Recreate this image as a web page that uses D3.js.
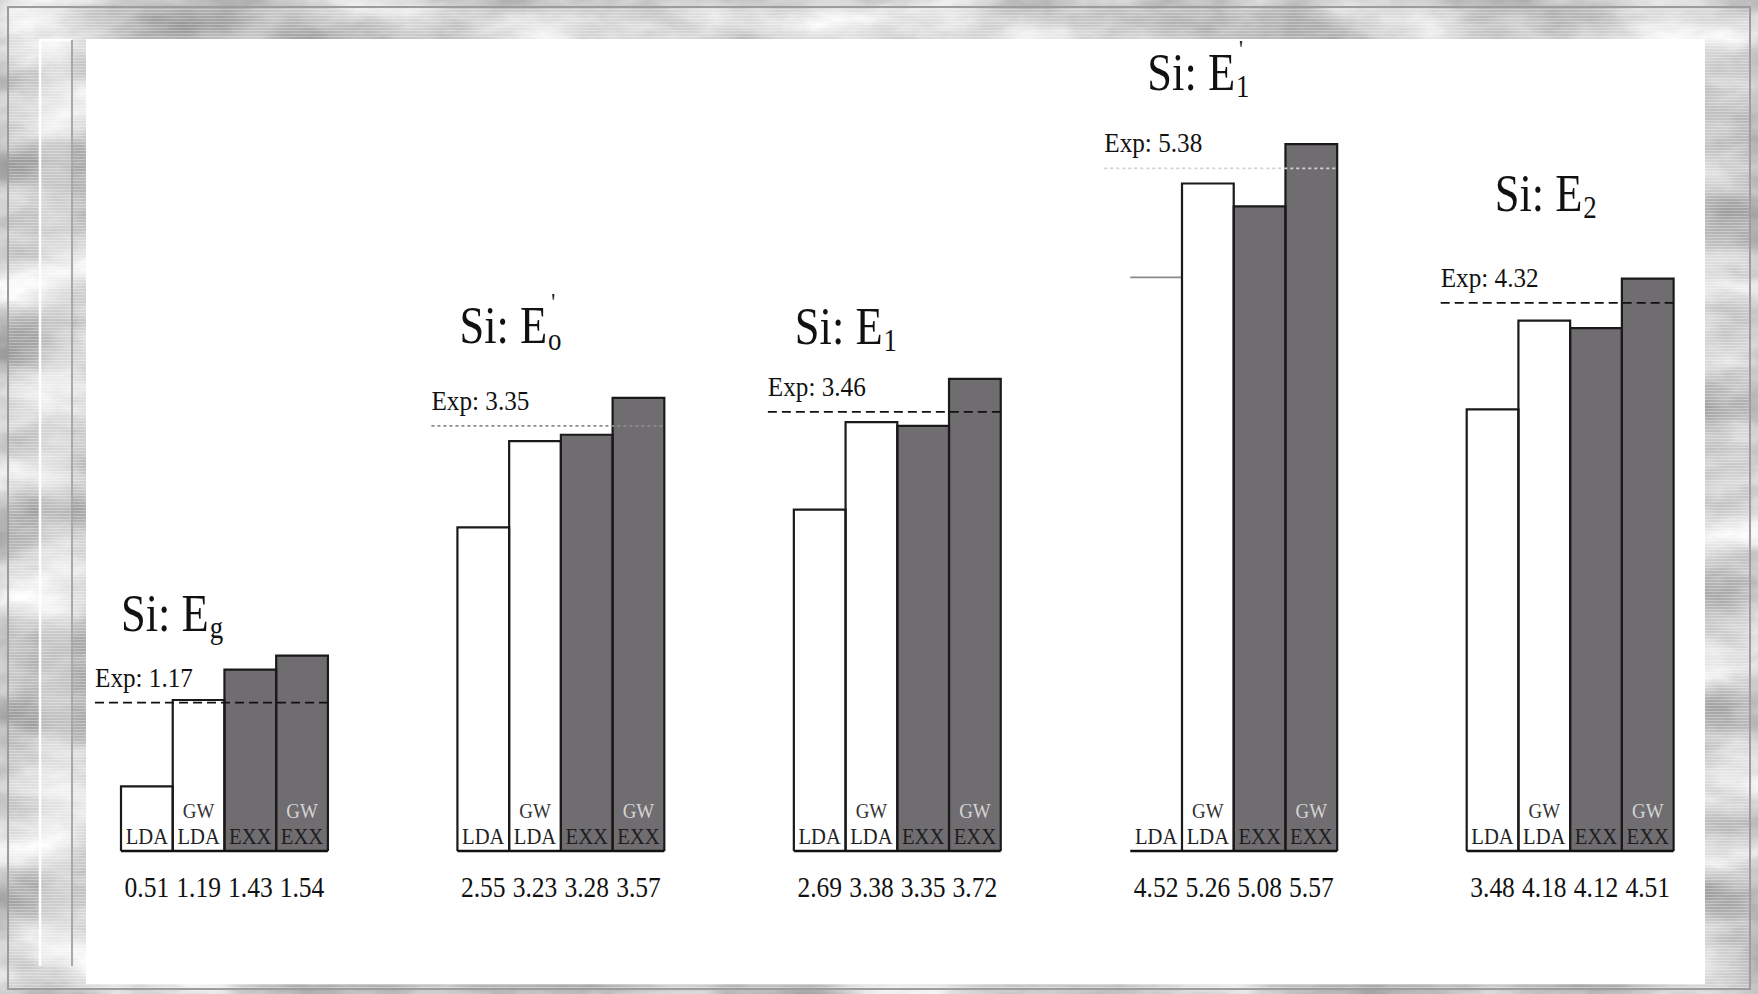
<!DOCTYPE html>
<html>
<head>
<meta charset="utf-8">
<script src="https://cdn.jsdelivr.net/npm/d3@7"></script>
<style>
  html, body { margin: 0; padding: 0; background: #c8c8c8; }
  svg { display: block; }
  text { font-family: "Liberation Serif", "DejaVu Serif", serif; }
</style>
</head>
<body>
<svg id="chart" width="1758" height="994"></svg>
<script>
// ---- data ----
const groups      = ["Eg", "E0'", "E1", "E1'", "E2"];
const titleSub    = ["g", "o", "1", "1", "2"];
const titlePrime  = [false, true, false, true, false];
const methods     = ["LDA", "GW-LDA", "EXX", "GW-EXX"];
const methodTop   = ["", "GW", "", "GW"];
const methodBase  = ["LDA", "LDA", "EXX", "EXX"];
const ldaValues   = [0.51, 2.55, 2.69, 4.52, 3.48];
const gwLdaValues = [1.19, 3.23, 3.38, 5.26, 4.18];
const exxValues   = [1.43, 3.28, 3.35, 5.08, 4.12];
const gwExxValues = [1.54, 3.57, 3.72, 5.57, 4.51];
const expValues   = [1.17, 3.35, 3.46, 5.38, 4.32];

const seriesValues = [ldaValues, gwLdaValues, exxValues, gwExxValues];

// ---- layout ----
const W = 1758, H = 994;
const baseY = 851;
const titleDx   = [0, 2, 1, 17, 28];      // title offset from group start
const titleLift = [72, 83, 68, 78, 92];   // title baseline above the Exp line
const expTone   = ["#111", "#8c8c8c", "#111", "#d2d2d2", "#111"];
const expDash   = ["9,5", "3,3", "9,5", "3,3", "9,5"];
const barFill   = { "LDA": "#ffffff", "GW-LDA": "#ffffff", "EXX": "#6f6d70", "GW-EXX": "#6f6d70" };
const openLeft  = new Set(["E1'|LDA"]);   // outline drawn without its left edge

const svg = d3.select("#chart");
const defs = svg.append("defs");

// marble backdrop
const marble = defs.append("filter").attr("id", "marble")
  .attr("x", 0).attr("y", 0).attr("width", "100%").attr("height", "100%")
  .attr("color-interpolation-filters", "sRGB");
marble.append("feTurbulence").attr("type", "fractalNoise")
  .attr("baseFrequency", "0.007 0.016").attr("numOctaves", 5).attr("seed", 11).attr("result", "n");
marble.append("feColorMatrix").attr("type", "matrix")
  .attr("values", "0.6 0 0 0 0.5  0.6 0 0 0 0.5  0.6 0 0 0 0.5  0 0 0 0 1");

const stripes = defs.append("pattern").attr("id", "stripes")
  .attr("width", 6).attr("height", 3).attr("patternUnits", "userSpaceOnUse");
stripes.append("rect").attr("width", 6).attr("height", 1).attr("fill", "#ffffff").attr("opacity", 0.3);

svg.append("rect").attr("width", W).attr("height", H).attr("filter", "url(#marble)");
svg.append("rect").attr("x", 8).attr("y", 7).attr("width", W - 16).attr("height", H - 12)
  .attr("fill", "url(#stripes)");
svg.append("rect").attr("x", 8).attr("y", 7).attr("width", W - 16).attr("height", H - 12)
  .attr("fill", "none").attr("stroke", "#9c9c9c").attr("stroke-width", 2);

// left marble strip
svg.append("rect").attr("x", 39).attr("y", 39).attr("width", 34).attr("height", 927)
  .attr("fill", "#ffffff").attr("opacity", 0.25);
svg.append("path").attr("d", "M40,966V40H72").attr("fill", "none")
  .attr("stroke", "#ffffff").attr("stroke-width", 2.5);
svg.append("line").attr("x1", 72).attr("x2", 72).attr("y1", 40).attr("y2", 966)
  .attr("stroke", "#a8a8a8").attr("stroke-width", 2);

// white panel
svg.append("rect").attr("x", 86).attr("y", 39).attr("width", 1619).attr("height", 945)
  .attr("fill", "#ffffff");

// ---- scales ----
const x0 = d3.scaleBand().domain(groups).range([121, 1673.6]).paddingInner(0.385).paddingOuter(0);
const x1 = d3.scaleBand().domain(methods).range([0, x0.bandwidth()]).padding(0);
const y = d3.scaleLinear().domain([0, 6]).range([baseY, baseY - 6 * 126.9]);

// condensed text helper (text is drawn narrow)
function label(parent, x, yy, str, size, anchor, fill, sx) {
  return parent.append("text")
    .attr("transform", `translate(${x},${yy}) scale(${sx},1)`)
    .attr("text-anchor", anchor)
    .attr("font-size", size)
    .attr("fill", fill)
    .text(str);
}

const plot = svg.append("g");

groups.forEach((g, gi) => {
  const gx = x0(g);
  const bw = x1.bandwidth();
  const gEl = plot.append("g").attr("transform", `translate(${gx},0)`);

  const rows = methods.map((m, mi) => ({ m, mi, v: seriesValues[mi][gi], open: openLeft.has(g + "|" + m) }));

  // bar fills
  gEl.selectAll("rect.bar").data(rows).join("rect")
    .attr("class", "bar")
    .attr("x", d => x1(d.m))
    .attr("y", d => y(d.v))
    .attr("width", bw)
    .attr("height", d => y(0) - y(d.v))
    .attr("fill", d => barFill[d.m]);

  // bar outlines
  gEl.selectAll("path.edge").data(rows).join("path")
    .attr("class", "edge")
    .attr("d", d => {
      const l = x1(d.m), r = l + bw, t = y(d.v), b = y(0);
      return d.open ? `M${l},${t}H${r}V${b}` : `M${l},${b}V${t}H${r}V${b}`;
    })
    .attr("fill", "none")
    .attr("stroke", d => d.open ? "#8a8a8a" : "#1a1a1a")
    .attr("stroke-width", d => d.open ? 1.6 : 2.2);

  // baseline
  gEl.append("line")
    .attr("x1", 0).attr("x2", x0.bandwidth())
    .attr("y1", y(0)).attr("y2", y(0))
    .attr("stroke", "#111").attr("stroke-width", 2.6);

  // method labels inside the bars
  rows.forEach(d => {
    const cx = x1(d.m) + bw / 2;
    const dark = barFill[d.m] !== "#ffffff";
    label(gEl, cx, y(0) - 7, methodBase[d.mi], 24, "middle", dark ? "#1e1e1e" : "#222", 0.86);
    if (methodTop[d.mi]) {
      label(gEl, cx, y(0) - 33, methodTop[d.mi], 22, "middle", dark ? "#d4d4d4" : "#333", 0.86);
    }
    // value under each bar
    label(gEl, cx, 897, d.v.toFixed(2), 30, "middle", "#111", 0.85);
  });

  // experimental reference line
  const ey = y(expValues[gi]);
  gEl.append("line")
    .attr("x1", -26).attr("x2", x0.bandwidth())
    .attr("y1", ey).attr("y2", ey)
    .attr("stroke", expTone[gi]).attr("stroke-width", 1.8)
    .attr("stroke-dasharray", expDash[gi]);
  label(gEl, -26, ey - 16, "Exp: " + expValues[gi].toFixed(2), 28, "start", "#111", 0.9);

  // group title
  const ty = ey - titleLift[gi];
  const tx = titleDx[gi];
  const t = gEl.append("text")
    .attr("transform", `translate(${tx},${ty}) scale(0.84,1)`)
    .attr("font-size", 53).attr("fill", "#111");
  t.append("tspan").text("Si: E");
  t.append("tspan").attr("font-size", 32).attr("dy", 7).attr("dx", 1).text(titleSub[gi]);
  if (titlePrime[gi]) {
    const mainLen = t.node().getSubStringLength(0, 5);
    gEl.append("text")
      .attr("transform", `translate(${tx + mainLen * 0.84 + 4},${ty - 32}) scale(0.84,1)`)
      .attr("font-size", 26).attr("fill", "#111").text("'");
  }
});
</script>
</body>
</html>
